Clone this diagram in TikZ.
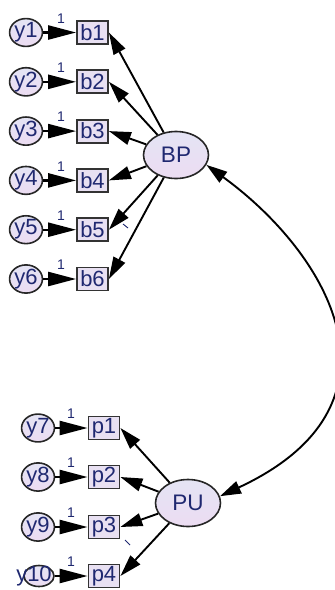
\documentclass[tikz,border=0pt]{standalone}
\usepackage{fontspec}
\setmainfont{Liberation Sans}
\usetikzlibrary{arrows.meta,shapes.geometric}
\definecolor{ink}{HTML}{1F2870}
\definecolor{boxfill}{HTML}{E8E0F2}
\definecolor{ovaltop}{HTML}{E4E4F4}
\definecolor{ovalbot}{HTML}{ECDCF2}
\tikzset{
  obs/.style={draw=black!80, line width=1.8pt, fill=boxfill, rectangle,
    minimum width=31pt, minimum height=23pt, inner sep=0pt,
    text=ink, font=\fontsize{22}{22}\selectfont},
  err/.style={draw=black!85, line width=1.6pt, ellipse, top color=ovaltop,
    bottom color=ovalbot, minimum width=30pt, minimum height=21pt,
    inner sep=0pt, text=ink, font=\fontsize{22}{22}\selectfont},
  latent/.style={draw=black!85, line width=1.6pt, ellipse, top color=ovaltop,
    bottom color=ovalbot, minimum width=65pt, minimum height=47pt,
    inner sep=0pt, text=ink, font=\fontsize{22.5}{22.5}\selectfont},
  load/.style={line width=1.9pt, -{Triangle[length=22pt,width=13pt]}},
  fix/.style={line width=2.4pt, -{Triangle[length=28pt,width=14pt]}},
  cov/.style={line width=1.9pt, {Triangle[length=21pt,width=13pt]}-{Triangle[length=21pt,width=13pt]}},
  one/.style={text=ink, font=\fontsize{14}{14}\selectfont, inner sep=0pt},
}
\begin{document}
\begin{tikzpicture}[x=1pt,y=-1pt]
\useasboundingbox (0,0) rectangle (335,590);

% latent variables
\node[latent] (BP) at (176,155) {BP};
\node[latent] (PU) at (188,503) {PU};

% indicators of BP with their error terms
\foreach \i/\yy in {1/32.5,2/81.8,3/131.1,4/180.4,5/229.7,6/279}{
  \node[obs] (b\i) at (92.5,\yy) {b\i};
  \node[err] (y\i) at (26,\yy) {y\i};
  \draw[fix] (y\i.east) -- (b\i.west);
  \node[one] (l\i) at (61,\yy-14) {1};
  \draw[load] (BP) -- (b\i.east);
}

% indicators of PU with their error terms
\foreach \i/\yy/\e in {1/428/7,2/477/8,3/527/9}{
  \node[obs] (p\i) at (104,\yy) {p\i};
  \node[err] (y\e) at (38,\yy) {y\e};
  \draw[fix] (y\e.east) -- (p\i.west);
  \node[one] (l\e) at (71,\yy-14) {1};
  \draw[load] (PU) -- (p\i.east);
}
\node[obs] (p4) at (104,576) {p4};
\node[err] (y10) at (39,576) {};
\node[text=ink, font=\fontsize{22}{22}\selectfont, inner sep=0pt] (t10) at (34,576) {y10};
\draw[fix] (y10.east) -- (p4.west);
\node[one] (l10) at (71,562) {1};
\draw[load] (PU) -- (p4.east);

% small marks beside b5 and p3
\coordinate (m1) at (123,224);
\coordinate (m2) at (128,228);
\draw[ink, line width=0.9pt] (m1) -- (m2);
\coordinate (m3) at (125,540);
\coordinate (m4) at (130,545);
\draw[ink, line width=0.9pt] (m3) -- (m4);

% covariance between the two factors
\draw[cov] (BP.-18) .. controls (330,255) and (416,405) .. (PU.12);
\end{tikzpicture}
\end{document}
